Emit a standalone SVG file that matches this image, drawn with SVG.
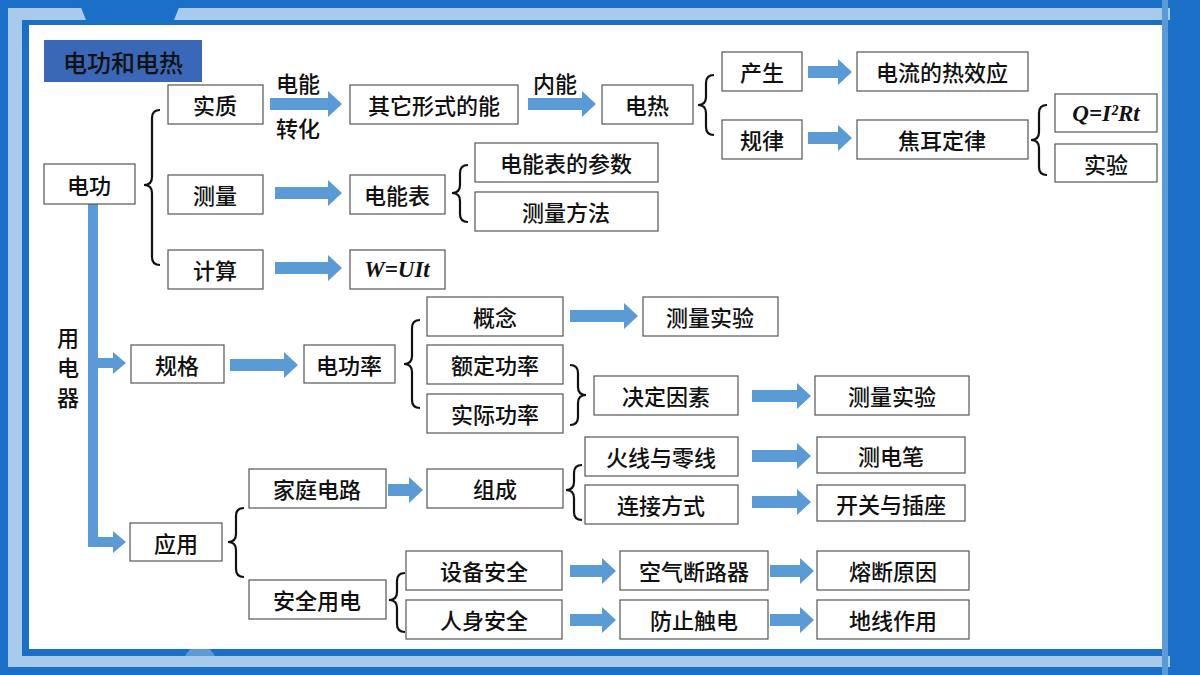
<svg xmlns="http://www.w3.org/2000/svg" width="1200" height="675" viewBox="0 0 1200 675">
<defs>
<style>
.b rect{fill:#fff;stroke:#555;stroke-width:1.2}
.b text,.t{font-family:"Noto Sans CJK SC","Noto Sans",sans-serif;font-size:22px;font-weight:500;fill:#111;text-anchor:middle;dominant-baseline:central}
.b text.m{font-family:"Liberation Serif",serif;font-style:italic;font-weight:bold;font-size:23px}
.ar polygon,.ar rect{fill:#5b9bd5}
.br{fill:none;stroke:#111;stroke-width:2.2}
</style>
</defs>
<rect width="1200" height="675" fill="#1a6fc6"/>
<rect x="8" y="8" width="1184" height="659" fill="#a8cbec"/>
<rect x="22" y="20" width="1150" height="636" fill="#1a6fc6"/>
<rect x="29" y="25" width="1138" height="624" fill="#fff"/>
<polygon points="78,0 182,0 174,20 86,20" fill="#1a6fc6"/>
<polygon points="190,649 210,649 215,656 185,656" fill="#5b9bd5"/>
<rect x="1170" y="0" width="30" height="675" fill="#1a6fc6"/>
<rect x="1162" y="0" width="6" height="675" fill="#5b9bd5"/>

<g id="title"><rect x="44" y="40" width="158" height="42" fill="#3a67b8"/><text class="t" x="123" y="61" style="font-size:24px">电功和电热</text></g>

<g id="connectors">
<g class="ar">
<rect x="88" y="204" width="10" height="343"/>
<polygon points="88,358 113,358 113,352 126,363 113,374 113,368 88,368"/>
<polygon points="88,537 113,537 113,531 126,542 113,553 113,547 88,547"/>
<polygon points="270,98 328,98 328,91 342,104 328,117 328,110 270,110"/>
<polygon points="275,187 328,187 328,180 342,193 328,206 328,199 275,199"/>
<polygon points="275,262 328,262 328,255 342,268 328,281 328,274 275,274"/>
<polygon points="528,98 582,98 582,91 596,104 582,117 582,110 528,110"/>
<polygon points="808,66 838,66 838,59 852,72 838,85 838,78 808,78"/>
<polygon points="808,132 838,132 838,125 852,138 838,151 838,144 808,144"/>
<polygon points="230,359 284,359 284,352 298,365 284,378 284,371 230,371"/>
<polygon points="570,310 624,310 624,303 638,316 624,329 624,322 570,322"/>
<polygon points="752,390 797,390 797,383 811,396 797,409 797,402 752,402"/>
<polygon points="752,450 797,450 797,443 811,456 797,469 797,462 752,462"/>
<polygon points="752,496 797,496 797,489 811,502 797,515 797,508 752,508"/>
<polygon points="388,484 409,484 409,477 423,490 409,503 409,496 388,496"/>
<polygon points="570,565 602,565 602,558 616,571 602,584 602,577 570,577"/>
<polygon points="770,565 800,565 800,558 814,571 800,584 800,577 770,577"/>
<polygon points="570,614 602,614 602,607 616,620 602,633 602,626 570,626"/>
<polygon points="770,614 800,614 800,607 814,620 800,633 800,626 770,626"/>
</g>
<path class="br" d="M160,110 q-8,0 -8,8 v59 q0,8 -8,8 q8,0 8,8 v64 q0,8 8,8"/>
<path class="br" d="M714,75 q-8,0 -8,8 v14 q0,8 -8,8 q8,0 8,8 v14 q0,8 8,8"/>
<path class="br" d="M1047,105 q-8,0 -8,8 v19 q0,8 -8,8 q8,0 8,8 v19 q0,8 8,8"/>
<path class="br" d="M468,165 q-8,0 -8,8 v12 q0,8 -8,8 q8,0 8,8 v13 q0,8 8,8"/>
<path class="br" d="M420,320 q-8,0 -8,8 v28 q0,8 -8,8 q8,0 8,8 v28 q0,8 8,8"/>
<path class="br" d="M570,365 q8,0 8,8 v14 q0,8 8,8 q-8,0 -8,8 v14 q0,8 -8,8"/>
<path class="br" d="M582,465 q-8,0 -8,8 v9 q0,8 -8,8 q8,0 8,8 v14 q0,8 8,8"/>
<path class="br" d="M244,508 q-8,0 -8,8 v18 q0,8 -8,8 q8,0 8,8 v19 q0,8 8,8"/>
<path class="br" d="M405,573 q-8,0 -8,8 v11 q0,8 -8,8 q8,0 8,8 v16 q0,8 8,8"/>
<text class="t" x="298" y="82">电能</text>
<text class="t" x="298" y="127">转化</text>
<text class="t" x="555" y="82">内能</text>
<text class="t" x="68" y="336">用</text>
<text class="t" x="68" y="366">电</text>
<text class="t" x="68" y="396">器</text>
</g>

<g class="b">
<g id="n-dg"><rect x="44" y="164" width="91" height="40"/><text x="89" y="184">电功</text></g>
<g id="n-sz"><rect x="168" y="85" width="95" height="39"/><text x="215" y="104">实质</text></g>
<g id="n-cl"><rect x="168" y="175" width="95" height="39"/><text x="215" y="194">测量</text></g>
<g id="n-js"><rect x="168" y="250" width="95" height="39"/><text x="215" y="269">计算</text></g>
<g id="n-qt"><rect x="350" y="85" width="168" height="39"/><text x="434" y="104">其它形式的能</text></g>
<g id="n-dr"><rect x="602" y="85" width="91" height="39"/><text x="647" y="104">电热</text></g>
<g id="n-cs"><rect x="722" y="52" width="80" height="39"/><text x="762" y="71">产生</text></g>
<g id="n-gl"><rect x="722" y="120" width="80" height="39"/><text x="762" y="139">规律</text></g>
<g id="n-rxy"><rect x="857" y="52" width="171" height="39"/><text x="942" y="71">电流的热效应</text></g>
<g id="n-je"><rect x="857" y="120" width="171" height="39"/><text x="942" y="139">焦耳定律</text></g>
<g id="n-q"><rect x="1055" y="94" width="102" height="38"/><text class="m" x="1106" y="113">Q=I²Rt</text></g>
<g id="n-sy"><rect x="1055" y="144" width="102" height="38"/><text x="1106" y="163">实验</text></g>
<g id="n-dnb"><rect x="350" y="175" width="95" height="39"/><text x="397" y="194">电能表</text></g>
<g id="n-cs2"><rect x="475" y="143" width="183" height="39"/><text x="566" y="162">电能表的参数</text></g>
<g id="n-clff"><rect x="475" y="192" width="183" height="39"/><text x="566" y="211">测量方法</text></g>
<g id="n-w"><rect x="350" y="250" width="95" height="39"/><text class="m" x="397" y="269">W=UIt</text></g>
<g id="n-gg"><rect x="131" y="345" width="93" height="38"/><text x="177" y="364">规格</text></g>
<g id="n-dgl"><rect x="304" y="345" width="91" height="38"/><text x="349" y="364">电功率</text></g>
<g id="n-gn"><rect x="427" y="297" width="136" height="39"/><text x="495" y="316">概念</text></g>
<g id="n-ed"><rect x="427" y="345" width="136" height="39"/><text x="495" y="364">额定功率</text></g>
<g id="n-sj"><rect x="427" y="394" width="136" height="39"/><text x="495" y="413">实际功率</text></g>
<g id="n-clsy1"><rect x="643" y="297" width="135" height="39"/><text x="710" y="316">测量实验</text></g>
<g id="n-jd"><rect x="594" y="376" width="144" height="39"/><text x="666" y="395">决定因素</text></g>
<g id="n-clsy2"><rect x="815" y="376" width="154" height="39"/><text x="892" y="395">测量实验</text></g>
<g id="n-jt"><rect x="249" y="469" width="137" height="39"/><text x="317" y="488">家庭电路</text></g>
<g id="n-zc"><rect x="427" y="469" width="136" height="39"/><text x="495" y="488">组成</text></g>
<g id="n-hx"><rect x="585" y="437" width="153" height="39"/><text x="661" y="456">火线与零线</text></g>
<g id="n-lj"><rect x="585" y="485" width="153" height="39"/><text x="661" y="504">连接方式</text></g>
<g id="n-cdb"><rect x="817" y="437" width="148" height="36"/><text x="891" y="455">测电笔</text></g>
<g id="n-kg"><rect x="817" y="485" width="148" height="36"/><text x="891" y="503">开关与插座</text></g>
<g id="n-yy"><rect x="130" y="523" width="92" height="38"/><text x="176" y="542">应用</text></g>
<g id="n-aq"><rect x="249" y="580" width="137" height="39"/><text x="317" y="599">安全用电</text></g>
<g id="n-sb"><rect x="406" y="551" width="156" height="39"/><text x="484" y="570">设备安全</text></g>
<g id="n-rs"><rect x="406" y="600" width="156" height="39"/><text x="484" y="619">人身安全</text></g>
<g id="n-kq"><rect x="620" y="551" width="148" height="39"/><text x="694" y="570">空气断路器</text></g>
<g id="n-fz"><rect x="620" y="600" width="148" height="39"/><text x="694" y="619">防止触电</text></g>
<g id="n-rd"><rect x="817" y="551" width="152" height="39"/><text x="893" y="570">熔断原因</text></g>
<g id="n-dx"><rect x="817" y="600" width="152" height="39"/><text x="893" y="619">地线作用</text></g>
</g>
</svg>
